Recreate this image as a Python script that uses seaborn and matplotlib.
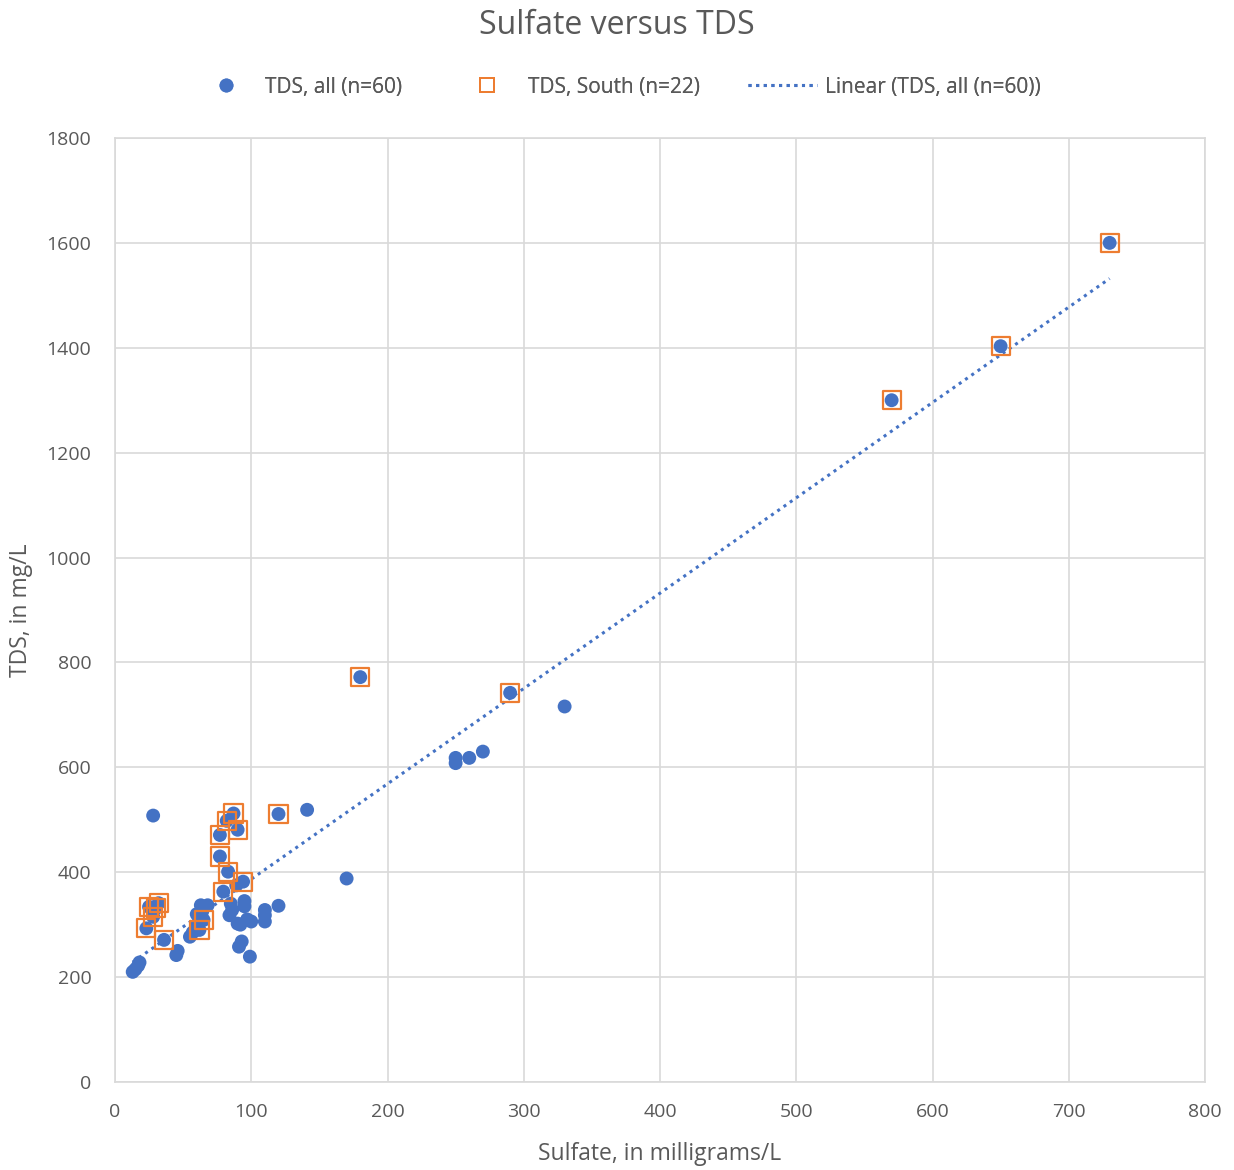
import numpy as np
import pandas as pd
import matplotlib
matplotlib.use("Agg")
import matplotlib.pyplot as plt
import seaborn as sns
from matplotlib.lines import Line2D

# South subset (22)
south_sulfate = [730, 650, 570, 180, 290, 120, 87, 82, 90, 77, 77, 83, 94, 79.5, 32, 25, 30, 28, 23, 36, 65, 62]
south_tds = [1600, 1403, 1300, 772, 742, 511, 512, 498, 481, 471, 430, 401, 382, 363, 341, 334, 331, 315, 293, 271, 309, 290]

# Other samples (38)
other_sulfate = [28, 141, 170, 330, 250, 250, 260, 270,
                 13, 15, 17, 18, 45, 46, 55, 57, 60, 60, 63, 68, 64,
                 86, 84, 90, 92, 100, 93, 91, 99, 110, 110, 110, 120, 95, 95, 89, 85, 97]
other_tds = [508, 519, 388, 716, 608, 618, 618, 630,
             210, 215, 222, 228, 242, 250, 277, 285, 300, 320, 337, 337, 325,
             328, 318, 302, 300, 306, 268, 258, 239, 328, 318, 306, 336, 345, 335, 375, 340, 310]

all_sulfate = south_sulfate + other_sulfate
all_tds = south_tds + other_tds

x_ticks = [0, 100, 200, 300, 400, 500, 600, 700, 800]
y_ticks = [0, 200, 400, 600, 800, 1000, 1200, 1400, 1600, 1800]

df_all = pd.DataFrame({"sulfate": all_sulfate, "tds": all_tds})
df_south = pd.DataFrame({"sulfate": south_sulfate, "tds": south_tds})

sns.set_style("white")
plt.rcParams['font.family'] = ['Open Sans', 'DejaVu Sans']

BLUE = "#4472C4"
ORANGE = "#ED7D31"
GRAY = "#595959"
GRID = "#D9D9D9"

fig = plt.figure(figsize=(12.34, 11.7), dpi=100)
ax = fig.add_axes([115/1234, 1-1082/1170, 1090/1234, 944/1170])

sns.scatterplot(data=df_all, x="sulfate", y="tds", ax=ax, color=BLUE, s=100,
                edgecolor="none", zorder=3, legend=False)
sns.scatterplot(data=df_south, x="sulfate", y="tds", ax=ax, marker="s", s=170,
                facecolors="none", edgecolor=ORANGE, linewidth=1.6, zorder=4, legend=False)

# linear trendline of all
slope, intercept = np.polyfit(all_sulfate, all_tds, 1)
xs = np.array([min(all_sulfate), max(all_sulfate)])
ax.plot(xs, slope*xs + intercept, color=BLUE, linestyle=(0, (1, 1.5)), linewidth=2.2, zorder=2)

ax.set_xlim(0, 800)
ax.set_ylim(0, 1800)
ax.set_xticks(x_ticks)
ax.set_yticks(y_ticks)
ax.grid(True, color=GRID, linewidth=1.2)
ax.set_axisbelow(True)
for sp in ax.spines.values():
    sp.set_color(GRID)
    sp.set_linewidth(1.2)
ax.tick_params(axis='both', length=0, labelsize=14, colors=GRAY)
ax.tick_params(axis='y', pad=17)
ax.tick_params(axis='x', pad=15)
ax.set_xlabel("Sulfate, in milligrams/L", fontsize=16.5, color=GRAY)
ax.set_ylabel("TDS, in mg/L", fontsize=16.5, color=GRAY)
ax.xaxis.set_label_coords(0.5, (1082-1142)/944)
ax.yaxis.set_label_coords((33-115)/1090, 0.5)

fig.text(0.5, 1-25/1170, "Sulfate versus TDS", ha='center', va='center', fontsize=23, color=GRAY)

fs = 15
fpx = fs * 100 / 72
ly = 1-87/1170
h1 = Line2D([], [], marker='o', color=BLUE, linestyle='none', markersize=10, markeredgewidth=0)
h2 = Line2D([], [], marker='s', markerfacecolor='none', markeredgecolor=ORANGE, linestyle='none', markersize=10, markeredgewidth=1.4)
h3 = Line2D([], [], color=BLUE, linestyle=(0, (1, 1.5)), linewidth=2.2)

def add_leg(h, lab, x_start, hlen_px, gap_px):
    leg = fig.legend([h], [lab], loc='center left', bbox_to_anchor=(x_start/1234, ly), frameon=False,
                     fontsize=fs, labelcolor=GRAY, handlelength=hlen_px/fpx, handletextpad=gap_px/fpx,
                     borderpad=0, borderaxespad=0)
    fig.add_artist(leg)

add_leg(h1, "TDS, all (n=60)", 226-19.5, 39, 19.5)
add_leg(h2, "TDS, South (n=22)", 487-19.5, 39, 21.5)
add_leg(h3, "Linear (TDS, all (n=60))", 748, 69, 8)

fig.savefig("out.png", dpi=100, facecolor="white")
